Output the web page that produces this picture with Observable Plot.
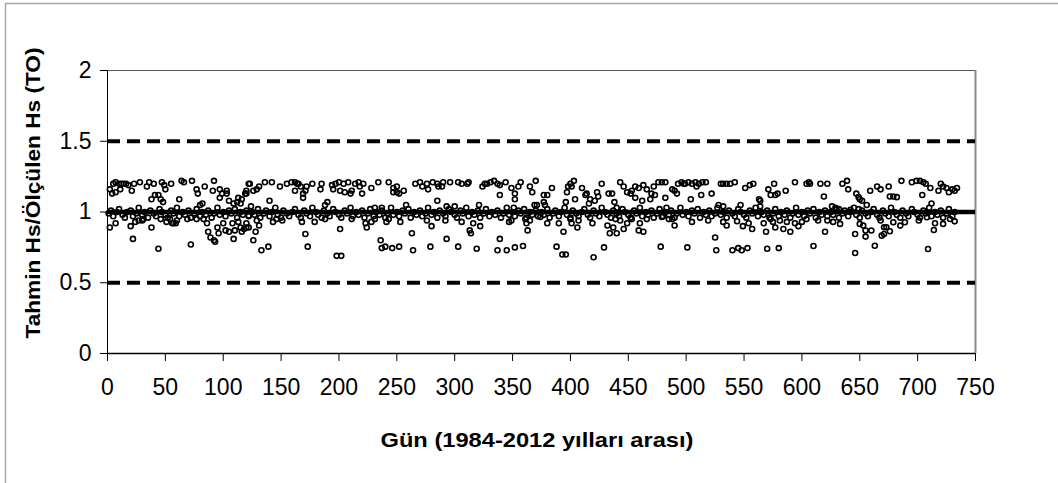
<!DOCTYPE html>
<html>
<head>
<meta charset="utf-8">
<script src="https://cdn.jsdelivr.net/npm/d3@7"></script>
<script src="https://cdn.jsdelivr.net/npm/@observablehq/plot@0.6"></script>
<style>
  html, body { margin: 0; padding: 0; background: #fff; }
  #chart { position: relative; width: 1058px; height: 483px; overflow: hidden; }
</style>
</head>
<body>
<div id="chart"></div>
<script>
// ---- Data (day, Tahmin Hs / Ölçülen Hs) ----
const xTicks = [0, 50, 100, 150, 200, 250, 300, 350, 400, 450, 500, 550, 600, 650, 700, 750];
const yTicks = [0, 0.5, 1, 1.5, 2];
const refLevel = [1];
const limitLevels = [0.5, 1.5];
const xTitle = "Gün (1984-2012 yılları arası)";
const yTitle = "Tahmin Hs/Ölçülen Hs (TO)";

const seg1 = [[2,1.16],[5,1.20],[7,1.21],[10,1.20],[12,1.20],[14,1.20],[16,1.20],[18,1.19],[21,1.15],[23,1.20],[28,1.21],[34,1.18],[36,1.21],[40,1.20],[47,1.21],[49,1.19],[50,1.16],[55,1.20],[64,1.22],[66,1.21],[73,1.22],[77,1.16],[78,1.13],[84,1.18],[92,1.22],[91,1.15],[97,1.16],[99,1.13],[103,1.15],[103,1.13],[105,1.08],[109,1.06],[112,1.07],[113,1.10],[115,1.06],[116,1.09],[119,1.13],[120,1.15],[122,1.20],[4,1.13],[7,1.14],[11,1.16],[38,1.09],[41,1.12],[44,1.12],[46,1.09],[48,1.07],[62,1.09],[80,1.05],[82,1.06],[97,1.10],
[2,0.89],[7,0.92],[20,0.90],[22,0.81],[24,0.93],[27,0.94],[30,0.94],[31,0.95],[38,0.89],[44,0.74],[46,0.95],[51,0.93],[54,0.95],[56,0.92],[57,0.92],[59,0.92],[60,0.94],[69,0.95],[72,0.77],[77,0.95],[83,0.95],[86,0.92],[87,0.86],[89,0.82],[92,0.80],[93,0.79],[95,0.89],[96,0.85],[100,0.92],[102,0.87],[105,0.86],[108,0.92],[109,0.81],[110,0.87],[113,0.93],[115,0.89],[116,0.86],[118,0.88],[120,0.92],[122,0.89]];

const seg2 = [[120,1.13],[123,1.20],[126,1.15],[129,1.16],[131,1.18],[136,1.21],[142,1.21],[149,1.18],[155,1.20],[159,1.21],[162,1.21],[164,1.20],[165,1.20],[162,1.15],[167,1.18],[169,1.13],[169,1.10],[172,1.18],[171,1.15],[177,1.20],[184,1.16],[185,1.20],[194,1.19],[195,1.16],[197,1.20],[200,1.21],[201,1.15],[204,1.20],[205,1.14],[208,1.21],[210,1.13],[211,1.15],[214,1.20],[217,1.21],[218,1.18],[220,1.13],[221,1.20],[228,1.17],[234,1.21],[243,1.21],[247,1.14],[140,1.08],[124,1.04],[190,1.07],[188,1.05],[231,1.03],[237,1.03],
[122,0.975],[120,0.89],[129,0.94],[131,0.905],[128,0.86],[126,0.80],[133,0.73],[139,0.755],[143,0.93],[146,0.95],[151,0.94],[168,0.93],[171,0.845],[173,0.755],[179,0.93],[188,0.95],[201,0.88],[198,0.69],[202,0.69],[211,0.95],[223,0.92],[224,0.89],[228,0.93],[231,0.95],[236,0.80],[237,0.745],[240,0.755],[246,0.745],[241,0.93],[243,0.95]];

const seg3 = [[247,1.17],[250,1.18],[250,1.14],[252,1.13],[256,1.15],[266,1.20],[270,1.21],[272,1.18],[276,1.20],[277,1.16],[281,1.21],[285,1.20],[286,1.18],[290,1.21],[289,1.18],[296,1.21],[303,1.21],[306,1.20],[311,1.20],[312,1.21],[324,1.18],[326,1.20],[328,1.20],[331,1.21],[334,1.22],[337,1.20],[339,1.19],[344,1.21],[349,1.17],[352,1.13],[357,1.21],[355,1.18],[365,1.18],[367,1.14],[370,1.22],[339,1.12],[285,1.08],[352,1.09],[258,1.05],[293,1.04],[300,1.04],[321,1.05],[351,1.03],[369,1.05],[371,1.05],
[252,0.755],[264,0.73],[263,0.85],[253,0.93],[276,0.94],[280,0.90],[279,0.755],[292,0.94],[293,0.81],[303,0.755],[306,0.93],[313,0.87],[314,0.85],[316,0.92],[319,0.74],[322,0.90],[337,0.73],[339,0.81],[345,0.73],[347,0.93],[349,0.94],[352,0.75],[359,0.76],[361,0.95],[362,0.92],[363,0.87],[365,0.94]];

const seg4 = [[384,1.17],[377,1.12],[380,1.12],[377,1.07],[378,1.05],[397,1.14],[398,1.18],[400,1.20],[403,1.22],[401,1.18],[410,1.17],[396,1.07],[404,1.09],[413,1.12],[414,1.13],[416,1.06],[417,1.09],[421,1.08],[423,1.14],[424,1.11],[427,1.20],[433,1.13],[436,1.13],[438,1.07],[440,1.03],[443,1.21],[446,1.18],[449,1.14],[452,1.13],[453,1.15],[456,1.18],[456,1.10],[459,1.17],[462,1.08],[463,1.19],[466,1.16],[469,1.09],[470,1.13],[472,1.18],[473,1.12],[476,1.21],[479,1.21],[482,1.21],[482,1.10],[483,1.03],[488,1.16],[490,1.15],[492,1.13],[493,1.20],[496,1.21],[498,1.20],
[374,0.965],[380,0.92],[390,0.92],[394,0.86],[388,0.755],[393,0.70],[396,0.70],[400,0.95],[401,0.92],[406,0.89],[407,0.94],[419,0.92],[420,0.68],[429,0.75],[432,0.905],[434,0.85],[437,0.89],[439,0.95],[440,0.85],[443,0.94],[446,0.88],[449,0.92],[453,0.95],[459,0.87],[460,0.92],[463,0.86],[466,0.95],[478,0.755],[479,0.965],[485,0.95],[488,0.95],[490,0.905]];

const seg5 = [[499,1.20],[502,1.21],[505,1.20],[508,1.21],[511,1.20],[514,1.21],[517,1.21],[509,1.18],[504,1.09],[513,1.12],[522,1.13],[530,1.20],[532,1.20],[535,1.20],[538,1.20],[542,1.21],[551,1.17],[555,1.19],[558,1.20],[547,1.05],[528,1.05],[532,1.04],[563,1.09],[564,1.08],[564,1.04],[571,1.16],[573,1.12],[576,1.20],[577,1.12],[579,1.13],[586,1.15],[594,1.21],[604,1.20],[606,1.21],[607,1.20],[616,1.20],[619,1.11],
[505,0.93],[501,0.75],[519,0.94],[525,0.82],[526,0.73],[532,0.93],[535,0.905],[540,0.73],[544,0.935],[545,0.745],[548,0.73],[549,0.90],[553,0.745],[554,0.92],[557,0.88],[567,0.92],[569,0.86],[570,0.74],[573,0.95],[575,0.93],[577,0.89],[580,0.745],[581,0.94],[584,0.88],[587,0.93],[590,0.86],[594,0.92],[597,0.90],[600,0.93],[604,0.95],[610,0.76],[614,0.94],[620,0.86],[622,0.94]];

const seg6 = [[622,1.20],[635,1.20],[639,1.22],[640,1.16],[647,1.13],[649,1.105],[650,1.09],[652,1.08],[656,1.05],[659,1.15],[665,1.18],[668,1.16],[675,1.18],[676,1.11],[679,1.11],[682,1.105],[686,1.22],[695,1.21],[699,1.22],[702,1.22],[705,1.21],[707,1.20],[704,1.12],[711,1.17],[712,1.06],[720,1.20],[718,1.15],[722,1.18],[725,1.17],[727,1.14],[730,1.16],[732,1.15],[734,1.17],[626,1.04],[629,1.03],[632,1.02],[642,1.015],[649,1.02],
[627,0.93],[633,0.916],[646,0.845],[646,0.71],[650,0.916],[653,0.904],[655,0.869],[655,0.826],[660,0.869],[663,0.762],[668,0.94],[669,0.833],[671,0.845],[671,0.892],[673,0.892],[676,0.864],[679,0.928],[685,0.904],[689,0.928],[701,0.94],[708,0.963],[709,0.739],[714,0.873],[715,0.92],[722,0.916],[728,0.951],[732,0.934]];

const nearOne = [[1,0.99],[3,1.01],[5,0.97],[8,1.00],[10,1.02],[13,0.98],[15,0.96],[17,1.00],[20,1.01],[22,0.97],[25,0.99],[27,1.03],[30,0.98],[32,1.00],[35,0.96],[37,1.01],[40,0.99],[42,0.97],[45,1.02],[47,1.00],[50,0.98],[52,0.96],[55,1.01],[57,0.99],[60,1.03],[62,0.97],[65,1.00],[67,0.98],[70,1.01],[72,0.96],[75,0.99],[77,1.02],[80,0.97],[82,1.00],[85,0.98],[87,1.01],[90,0.96],[92,0.99],[95,1.03],[97,0.98],[100,1.00],[102,0.97],[105,1.01],[107,0.99],[110,1.02],[112,0.96],[115,1.00],[117,0.98],[120,1.01],[122,0.97],
[125,1.00],[127,0.98],[130,1.02],[132,0.96],[135,0.99],[137,1.01],[140,0.97],[142,1.00],[145,1.03],[147,0.98],[150,0.96],[152,1.01],[155,0.99],[157,0.97],[160,1.00],[162,1.02],[165,0.98],[167,0.96],[170,1.01],[172,0.99],[175,0.97],[177,1.03],[180,1.00],[182,0.98],[185,0.96],[187,1.01],[190,0.99],[192,0.97],[195,1.02],[197,1.00],[200,0.98],[202,0.96],[205,1.01],[207,0.99],[210,1.03],[212,0.97],[215,1.00],[217,0.98],[220,1.01],[222,0.96],[225,0.99],[227,1.02],[230,0.97],[232,1.00],[235,0.98],[237,1.01],[240,0.96],[242,0.99],[245,1.03],[247,0.98],
[250,1.00],[252,0.97],[255,1.01],[257,0.99],[260,1.02],[262,0.96],[265,1.00],[267,0.98],[270,1.01],[272,0.97],[275,0.99],[277,1.03],[280,0.98],[282,1.00],[285,0.96],[287,1.01],[290,0.99],[292,0.97],[295,1.02],[297,1.00],[300,0.98],[302,0.96],[305,1.01],[307,0.99],[310,1.03],[312,0.97],[315,1.00],[317,0.98],[320,1.01],[322,0.96],[325,0.99],[327,1.02],[330,0.97],[332,1.00],[335,0.98],[337,1.01],[340,0.96],[342,0.99],[345,1.03],[347,0.98],[350,1.00],[352,0.97],[355,1.01],[357,0.99],[360,1.02],[362,0.96],[365,1.00],[367,0.98],[370,1.01],[372,0.97],
[375,1.00],[377,0.98],[380,1.02],[382,0.96],[385,0.99],[387,1.01],[390,0.97],[392,1.00],[395,1.03],[397,0.98],[400,0.96],[402,1.01],[405,0.99],[407,0.97],[410,1.00],[412,1.02],[415,0.98],[417,0.96],[420,1.01],[422,0.99],[425,0.97],[427,1.03],[430,1.00],[432,0.98],[435,0.96],[437,1.01],[440,0.99],[442,0.97],[445,1.02],[447,1.00],[450,0.98],[452,0.96],[455,1.01],[457,0.99],[460,1.03],[462,0.97],[465,1.00],[467,0.98],[470,1.01],[472,0.96],[475,0.99],[477,1.02],[480,0.97],[482,1.00],[485,0.98],[487,1.01],[490,0.96],[492,0.99],[495,1.03],[497,0.98],
[500,1.00],[502,0.97],[505,1.01],[507,0.99],[510,1.02],[512,0.96],[515,1.00],[517,0.98],[520,1.01],[522,0.97],[525,0.99],[527,1.03],[530,0.98],[532,1.00],[535,0.96],[537,1.01],[540,0.99],[542,0.97],[545,1.02],[547,1.00],[550,0.98],[552,0.96],[555,1.01],[557,0.99],[560,1.03],[562,0.97],[565,1.00],[567,0.98],[570,1.01],[572,0.96],[575,0.99],[577,1.02],[580,0.97],[582,1.00],[585,0.98],[587,1.01],[590,0.96],[592,0.99],[595,1.03],[597,0.98],[600,1.00],[602,0.97],[605,1.01],[607,0.99],[610,1.02],[612,0.96],[615,1.00],[617,0.98],[620,1.01],[622,0.97],
[625,1.00],[627,0.98],[630,1.02],[632,0.96],[635,0.99],[637,1.01],[640,0.97],[642,1.00],[645,1.03],[647,0.98],[650,0.96],[652,1.01],[655,0.99],[657,0.97],[660,1.00],[662,1.02],[665,0.98],[667,0.96],[670,1.01],[672,0.99],[675,0.97],[677,1.03],[680,1.00],[682,0.98],[685,0.96],[687,1.01],[690,0.99],[692,0.97],[695,1.02],[697,1.00],[700,0.98],[702,0.96],[705,1.01],[707,0.99],[710,1.03],[712,0.97],[715,1.00],[717,0.98],[720,1.01],[722,0.96],[725,0.99],[727,1.02],[730,0.97],[732,1.00]];

// ---- Build table ----
const points = [...seg1, ...seg2, ...seg3, ...seg4, ...seg5, ...seg6, ...nearOne]
  .map(([gun, oran]) => ({gun, oran}));

const FONT = "'Liberation Sans', Arial, Helvetica, sans-serif";

const chart = Plot.plot({
  width: 1058,
  height: 483,
  marginLeft: 107,
  marginRight: 83,
  marginTop: 70,
  marginBottom: 130,
  style: {fontFamily: FONT, fontSize: "23px", color: "#000", background: "transparent", overflow: "visible"},
  x: {domain: [0, 750]},
  y: {domain: [0, 2]},
  marks: [
    Plot.axisX({ticks: xTicks, tickSize: 8, tickPadding: 17, fontSize: 23, label: null, tickFormat: d => String(d)}),
    Plot.axisY({ticks: yTicks, tickSize: 7, tickPadding: 9, fontSize: 23, label: null, tickFormat: d => String(d)}),
    Plot.ruleY([2], {stroke: "#555", strokeWidth: 1}),
    Plot.ruleX([750], {stroke: "#8a8a8a", strokeWidth: 2}),
    Plot.dot(points, {x: "gun", y: "oran", r: 2.5, stroke: "#000", strokeWidth: 1.6, fill: "none"}),
    Plot.ruleY(limitLevels, {stroke: "#000", strokeWidth: 4, strokeDasharray: "13,7"}),
    Plot.ruleY(refLevel, {stroke: "#000", strokeWidth: 4.5}),
    Plot.ruleX([0], {stroke: "#000", strokeWidth: 1}),
    Plot.ruleY([0], {stroke: "#000", strokeWidth: 1.3})
  ]
});

const svg = d3.select(chart);
// outer chart border (left & top)
svg.append("line").attr("x1", 5.5).attr("x2", 5.5).attr("y1", 3).attr("y2", 483)
  .attr("stroke", "#a8a8a8").attr("stroke-width", 1.5);
svg.append("line").attr("x1", 5).attr("x2", 1058).attr("y1", 3.5).attr("y2", 3.5)
  .attr("stroke", "#a8a8a8").attr("stroke-width", 1.5);
// axis titles
svg.append("text").text(xTitle)
  .attr("x", 537).attr("y", 447).attr("text-anchor", "middle")
  .attr("textLength", 313).attr("lengthAdjust", "spacingAndGlyphs")
  .attr("font-family", FONT).attr("font-weight", "bold").attr("font-size", 20.5).attr("fill", "#000");
svg.append("text").text(yTitle)
  .attr("transform", "translate(40,193) rotate(-90)").attr("text-anchor", "middle")
  .attr("textLength", 291).attr("lengthAdjust", "spacingAndGlyphs")
  .attr("font-family", FONT).attr("font-weight", "bold").attr("font-size", 20.5).attr("fill", "#000");

document.getElementById("chart").appendChild(chart);
</script>
</body>
</html>
